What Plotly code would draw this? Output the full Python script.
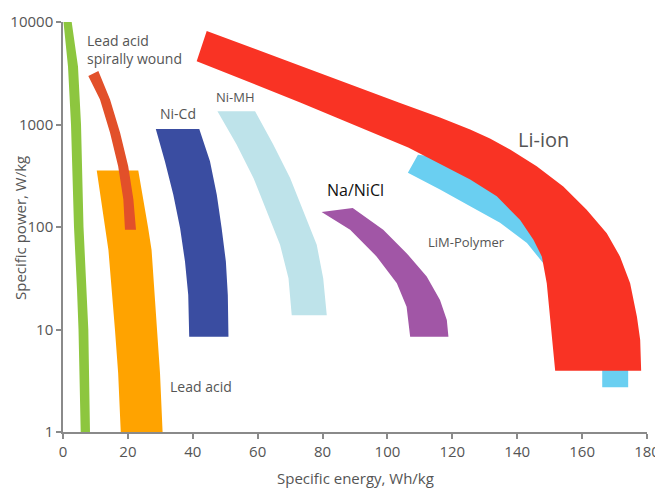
import math
import plotly.graph_objects as go

# ---- axis ticks ----
x_ticks = [0, 20, 40, 60, 80, 100, 120, 140, 160, 180]
y_ticks = [1, 10, 100, 1000, 10000]
y_tick_labels = ["1", "10", "100", "1000", "10000"]

# ---- band outlines (specific energy Wh/kg, specific power W/kg) ----
# green (unlabelled, near axis)
green_left_x = [0.15, 1.54, 2.47, 3.39, 4.32, 4.78, 5.46]
green_left_y = [10000, 3690, 998, 100, 24.3, 10, 1]
green_right_x = [2.68, 4.62, 5.55, 6.32, 7.24, 7.80, 8.32]
green_right_y = [10000, 3690, 998, 100, 24.3, 10, 1]

# Lead acid
lead_left_x = [10.4, 11.7, 12.9, 14.0, 16.0, 17.0, 17.8]
lead_left_y = [355, 185, 100, 59.8, 10.1, 3.75, 1]
lead_right_x = [23.2, 24.8, 26.2, 27.3, 28.9, 29.9, 30.7]
lead_right_y = [355, 185, 100, 59.8, 10.1, 3.75, 1]

# Lead acid spirally wound
spiral_left_x = [7.8, 11.4, 14.5, 17.0, 18.6, 19.1]
spiral_left_y = [2965, 1754, 829, 391, 185, 94]
spiral_right_x = [10.9, 14.5, 17.6, 20.1, 21.7, 22.5]
spiral_right_y = [3318, 1754, 829, 391, 185, 94]

# Ni-Cd
nicd_left_x = [28.6, 31.4, 34.0, 36.1, 37.6, 38.6, 38.9]
nicd_left_y = [906, 437, 206, 97.5, 46, 21.7, 8.5]
nicd_right_x = [42.0, 45.3, 47.4, 48.9, 50.2, 50.8, 51.0]
nicd_right_y = [906, 437, 206, 97.5, 46, 21.7, 8.5]

# Ni-MH
nimh_left_x = [47.6, 53.5, 58.7, 62.8, 66.9, 69.5, 70.5]
nimh_left_y = [1349, 637, 301, 142, 67, 31.7, 13.8]
nimh_right_x = [59.2, 64.8, 70.0, 74.1, 78.2, 80.2, 81.3]
nimh_right_y = [1349, 637, 301, 142, 67, 31.7, 13.8]

# Na/NiCl
nanicl_left_x = [79.7, 88.5, 96.7, 102.9, 105.9, 107.0]
nanicl_left_y = [140, 94, 51.4, 28.3, 16.7, 8.5]
nanicl_right_x = [89.3, 98.7, 105.9, 112.1, 116.2, 118.3, 118.8]
nanicl_right_y = [153, 94, 55.6, 32.8, 19.4, 12.4, 8.5]

# LiM-Polymer
poly_left_x = [106.3, 116.2, 125.5, 134.7, 143.0, 148.6, 162.5, 166.2, 166.2]
poly_left_y = [339, 232, 159, 110, 70, 42, 9.9, 4.0, 2.74]
poly_right_x = [109.4, 134.7, 153.2, 165.5, 171.1, 173.6, 174.2, 174.2]
poly_right_y = [508, 406, 206, 75, 30.4, 12.4, 4.0, 2.74]

# Li-ion
liion_inner_x = [41.2, 73.1, 106.4, 125.5, 133.7, 140.9, 145.0, 147.6, 149.1, 150.1, 151.1, 151.7]
liion_inner_y = [4150, 1640, 595, 290, 199, 117, 75, 51.4, 28.3, 13.3, 6.8, 3.95]
liion_outer_x = [44.3, 73.1, 103.9, 116.2, 125.5, 131.6, 137.8, 146.0, 154.2, 161.4, 167.6, 171.7, 174.8, 176.9, 177.9, 178.2]
liion_outer_y = [8170, 3740, 1618, 1170, 893, 729, 569, 391, 249, 147, 87, 51.4, 28.3, 13.3, 7.9, 3.95]

bands = [
    ("green", green_left_x, green_left_y, green_right_x, green_right_y, "#8DC63F"),
    ("Lead acid", lead_left_x, lead_left_y, lead_right_x, lead_right_y, "#FFA300"),
    ("Lead acid spirally wound", spiral_left_x, spiral_left_y, spiral_right_x, spiral_right_y, "#E2502A"),
    ("Ni-Cd", nicd_left_x, nicd_left_y, nicd_right_x, nicd_right_y, "#3A4DA1"),
    ("Ni-MH", nimh_left_x, nimh_left_y, nimh_right_x, nimh_right_y, "#BEE3EA"),
    ("Na/NiCl", nanicl_left_x, nanicl_left_y, nanicl_right_x, nanicl_right_y, "#A156A6"),
    ("LiM-Polymer", poly_left_x, poly_left_y, poly_right_x, poly_right_y, "#6ACFF1"),
    ("Li-ion", liion_inner_x, liion_inner_y, liion_outer_x, liion_outer_y, "#F93324"),
]

fig = go.Figure()
for name, lx, ly, rx, ry, col in bands:
    fig.add_trace(go.Scatter(
        x=list(lx) + list(rx)[::-1],
        y=list(ly) + list(ry)[::-1],
        fill="toself", fillcolor=col, mode="lines",
        line=dict(width=0, color=col), name=name, hoverinfo="skip",
        showlegend=False,
    ))

# ---- labels ----
labels = [
    ("Lead acid<br>spirally wound", 6.8, 5410, "left", 14, "#555555"),
    ("Ni-Cd", 35.5, 1280, "center", 14, "#555555"),
    ("Ni-MH", 53.3, 1855, "center", 13, "#555555"),
    ("Na/NiCl", 90.3, 231, "center", 16, "#111111"),
    ("LiM-Polymer", 124.5, 71.7, "center", 13, "#555555"),
    ("Li-ion", 148, 713, "center", 20, "#555555"),
    ("Lead acid", 32.4, 2.8, "left", 14, "#555555"),
]
for txt, lx, ly, align, size, col in labels:
    fig.add_annotation(
        x=lx, y=math.log10(ly), xref="x", yref="y", text=txt, showarrow=False,
        xanchor=align, yanchor="middle", align="left",
        font=dict(size=size, color=col),
    )

fig.add_annotation(text="Specific power, W/kg", xref="paper", yref="paper",
                   x=-0.074, y=0.497, textangle=-90, showarrow=False,
                   xanchor="center", yanchor="middle",
                   font=dict(size=15, color="#555555"))
fig.add_annotation(text="Specific energy, Wh/kg", xref="paper", yref="paper",
                   x=0.5, y=-0.112, showarrow=False,
                   xanchor="center", yanchor="middle",
                   font=dict(size=15, color="#555555"))

fig.update_layout(
    width=655, height=482,
    margin=dict(l=55, r=16, t=14, b=58),
    paper_bgcolor="white", plot_bgcolor="white",
    font=dict(family="Open Sans", size=15, color="#555555"),
    xaxis=dict(range=[0, 180], tickvals=x_ticks, showgrid=False, zeroline=False,
               automargin=False,
               showline=True, linecolor="#8a8a8a", linewidth=1.5,
               ticks="outside", ticklen=5, tickcolor="#8a8a8a", tickwidth=1.5,
               tickfont=dict(size=15, color="#555555")),
    yaxis=dict(type="log", range=[0, 4], tickvals=y_ticks, ticktext=y_tick_labels,
               showgrid=False, zeroline=False, automargin=False,
               showline=True, linecolor="#8a8a8a", linewidth=1.5,
               ticks="outside", ticklen=5, tickcolor="#8a8a8a", tickwidth=1.5,
               tickfont=dict(size=15, color="#555555")),
)

fig.write_html("out.html")
